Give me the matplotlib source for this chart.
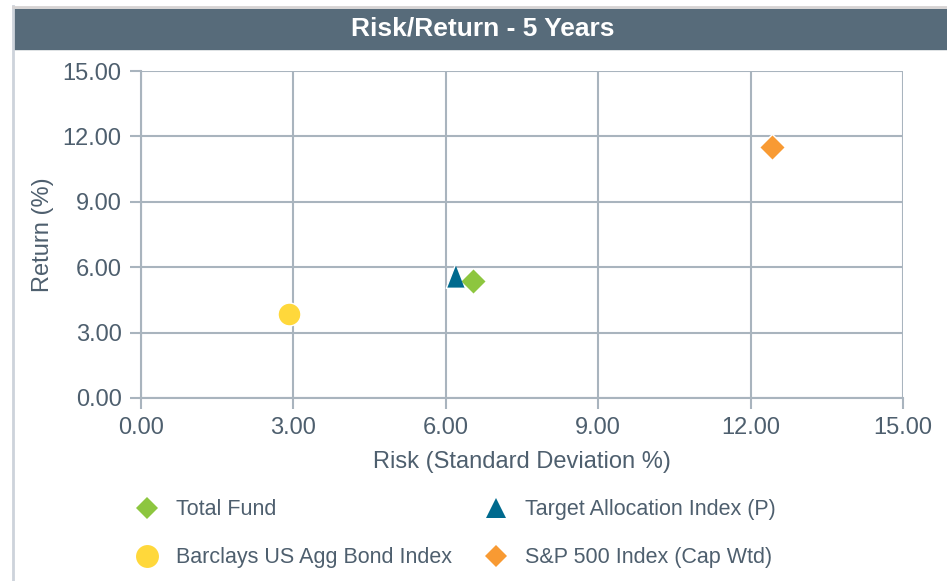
import matplotlib
matplotlib.use('Agg')
import matplotlib.pyplot as plt
from matplotlib.patches import Rectangle
from matplotlib.lines import Line2D

plt.rcParams['font.family'] = ['Liberation Sans', 'DejaVu Sans']

# risk / return values
names = ['Total Fund', 'Target Allocation Index (P)',
         'Barclays US Agg Bond Index', 'S&P 500 Index (Cap Wtd)']
risk = [6.54, 6.18, 2.91, 12.42]
ret = [5.37, 5.60, 3.85, 11.51]
colors = ['#8dc63f', '#006a8e', '#ffd83b', '#f89a33']
tri = [(0, 1), (-0.78, -1), (0.78, -1)]
markers = ['D', tri, 'o', 'D']
sizes = [13.5, 17, 16.5, 13.5]
leg_markers = ['D', '^', 'o', 'D']
leg_sizes = [10.8, 15, 16.5, 10.8]
ticks = [0, 3, 6, 9, 12, 15]

txt = '#4e5f6e'
grid = '#a9b4be'

fig = plt.figure(figsize=(9.47, 5.81), dpi=100)

# frame + title bar
fig.add_artist(Line2D([12.5/947, 12.5/947], [0, 1 - 6/581], color='#cdd3db', lw=2, transform=fig.transFigure))
fig.add_artist(Line2D([12.5/947, 1], [1 - 6.5/581, 1 - 6.5/581], color='#d6d3d3', lw=2, transform=fig.transFigure))
fig.add_artist(Rectangle((14/947, 1 - 49/581), 1, 40/581, color='#576b7a', transform=fig.transFigure))
fig.text(483/947, 1 - 29/581, 'Risk/Return - 5 Years', color='white', fontsize=19,
         fontweight='bold', ha='center', va='center')

ax = fig.add_axes([141/947, 183/581, 762/947, 327/581])
for i in range(len(names)):
    ax.plot(risk[i], ret[i], linestyle='none', marker=markers[i], markersize=sizes[i],
            color=colors[i], markeredgecolor='white', markeredgewidth=1,
            label=names[i], zorder=3)

ax.set_xlim(0, 15)
ax.set_ylim(0, 15)
ax.set_xticks(ticks)
ax.set_yticks(ticks)
ax.set_xticklabels(['%.2f' % t for t in ticks])
ax.set_yticklabels(['%.2f' % t for t in ticks])
ax.grid(True, color=grid, lw=1.5)
ax.set_axisbelow(True)
for s in ['top', 'right']:
    ax.spines[s].set_visible(False)
for s in ['left', 'bottom']:
    ax.spines[s].set_color(grid)
    ax.spines[s].set_linewidth(1.5)
ax.tick_params(colors=grid, labelcolor=txt, labelsize=17, length=8, width=1.5, pad=6)
ax.set_xlabel('Risk (Standard Deviation %)', color=txt, fontsize=17, labelpad=8)
ax.set_ylabel('Return (%)', color=txt, fontsize=17, labelpad=6)

# legend handles (slightly different sizes than plot markers)
handles = [Line2D([], [], linestyle='none', marker=leg_markers[i], markersize=leg_sizes[i],
                  color=colors[i], markeredgewidth=0) for i in range(len(names))]
order = [0, 2, 1, 3]
leg = fig.legend([handles[i] for i in order], [names[i] for i in order], ncol=2,
                 loc='upper left', bbox_to_anchor=(117/947, 1 - 480/581),
                 frameon=False, fontsize=15.5, labelcolor=txt,
                 handlelength=1.0, handletextpad=0.85, columnspacing=1.55,
                 labelspacing=1.25, borderpad=0.4)

plt.savefig('out.png', dpi=100)
